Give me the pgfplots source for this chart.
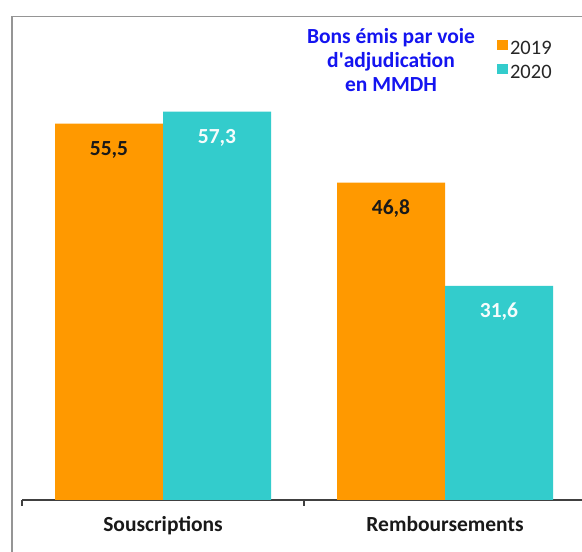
\documentclass[border=0pt]{standalone}
\usepackage{pgfplots}
\pgfplotsset{compat=1.18}
\usepackage{fontspec}
\setmainfont{Carlito}

\definecolor{orng}{HTML}{FF9900}
\definecolor{tealc}{HTML}{33CCCC}
\definecolor{framegrey}{HTML}{959595}
\definecolor{axisgrey}{HTML}{404040}
\definecolor{titleblue}{HTML}{1414F0}

\begin{document}
\begin{tikzpicture}
\useasboundingbox (0,0) rectangle (582pt,552pt);
\clip (0,0) rectangle (582pt,552pt);
\fill[white] (0,0) rectangle (582pt,552pt);
% outer chart frame (right and bottom edges fall outside the picture)
\draw[framegrey, line width=1.6pt] (12pt,-10pt) -- (12pt,535.5pt) -- (600pt,535.5pt);

\begin{axis}[
  at={(22pt,52pt)}, anchor=south west,
  scale only axis, width=564pt, height=440.7pt,
  xmin=-0.5, xmax=1.5, ymin=0, ymax=65,
  ybar=0pt, bar width=108pt,
  axis x line*=bottom, axis y line=none,
  x axis line style={axisgrey, line width=1.6pt, -},
  xtick={0,1}, xticklabels={Souscriptions,Remboursements},
  major tick length=0pt,
  extra x ticks={-0.5,0.5,1.5}, extra x tick labels={},
  extra x tick style={major tick length=6pt, tick align=outside,
    tick style={axisgrey, line width=1.6pt}},
  xticklabel style={font=\fontsize{21.5}{24}\selectfont\bfseries, text=black!90, yshift=-13pt},
  nodes near coords,
  every node near coord/.append style={font=\fontsize{21.5}{24}\selectfont\bfseries, anchor=center, yshift=-26pt},
  legend style={at={(axis description cs:0.842,1.045)}, anchor=north west,
    draw=none, fill=none, inner sep=0pt,
    font=\fontsize{20.5}{24}\selectfont, text=black!85,
    row sep=5pt, /tikz/every even column/.append style={column sep=6pt}},
  legend cell align=left,
  legend image code/.code={\fill[#1] (0pt,-1pt) rectangle (11pt,9pt);},
  /pgf/number format/.cd, use comma, fixed, fixed zerofill, precision=1, assume math mode=true
]
\addplot[fill=orng, draw=none,
  every node near coord/.append style={text=black!90, anchor=center}]
  coordinates {(0,55.5) (1,46.8)};
\addplot[fill=tealc, draw=none,
  every node near coord/.append style={text=white!95!tealc, anchor=center}]
  coordinates {(0,57.3) (1,31.6)};
\legend{2019,2020}
\end{axis}

\node[align=center, text=titleblue, font=\fontsize{21.5}{24}\selectfont\bfseries,
  anchor=north, inner sep=0pt] at (391pt,524pt) {Bons émis par voie\\d\textquotesingle adjudication\\en MMDH};
\end{tikzpicture}
\end{document}
